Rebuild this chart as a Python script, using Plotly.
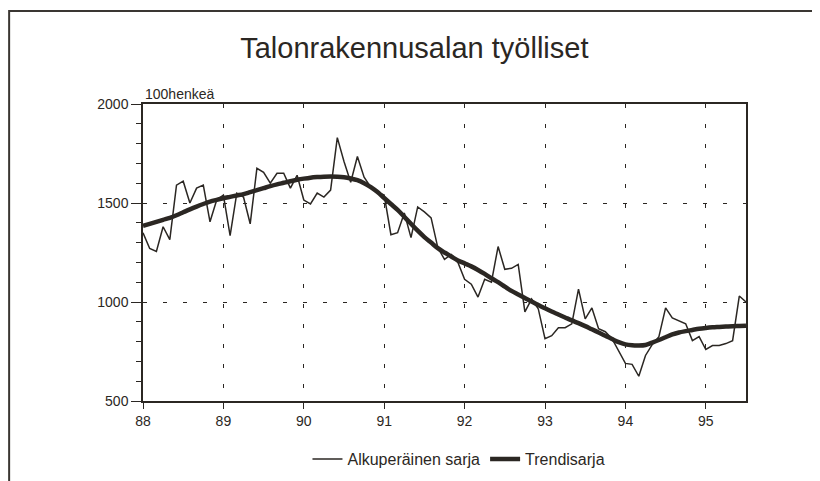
import plotly.graph_objects as go

title = "Talonrakennusalan työlliset"
y_unit = "100henkeä"
start_year = 88
series_names = ["Alkuperäinen sarja", "Trendisarja"]

original = [1350, 1270, 1255, 1380, 1315, 1590, 1610, 1500, 1575, 1590, 1405, 1515,
            1540, 1335, 1550, 1530, 1395, 1675, 1655, 1600, 1650, 1650, 1575, 1640,
            1515, 1495, 1550, 1530, 1565, 1830, 1710, 1605, 1735, 1630, 1580, 1555,
            1540, 1340, 1350, 1450, 1325, 1480, 1455, 1425, 1275, 1215, 1240, 1200,
            1115, 1090, 1025, 1115, 1100, 1280, 1165, 1170, 1190, 950, 1015, 965,
            815, 830, 870, 870, 890, 1065, 915, 970, 865, 850, 815, 750,
            690, 685, 625, 730, 785, 825, 970, 920, 905, 890, 805, 825,
            760, 780, 780, 790, 805, 1030, 1000]

trend = [1385, 1395, 1405, 1415, 1425, 1438, 1453, 1468, 1482, 1495, 1507, 1516,
         1524, 1531, 1538, 1545, 1555, 1565, 1575, 1585, 1594, 1602, 1610, 1617,
         1623, 1628, 1631, 1633, 1634, 1633, 1630, 1624, 1615, 1600, 1580, 1555,
         1525, 1495, 1465, 1430, 1395, 1360, 1328, 1300, 1272, 1250, 1230, 1210,
         1195, 1180, 1162, 1142, 1120, 1100, 1078, 1056, 1038, 1020, 1002, 985,
         968, 952, 937, 922, 907, 893, 878, 862, 846, 830, 813, 797,
         786, 781, 780, 783, 795, 808, 822, 836, 846, 853, 859, 865,
         869, 872, 874, 876, 878, 879, 880]

x_ticks = [88, 89, 90, 91, 92, 93, 94, 95]
y_ticks = [500, 1000, 1500, 2000]

x = [start_year + i / 12 for i in range(len(original))]

INK = "#2b2723"
FONT = "Liberation Sans, Arial, sans-serif"

fig = go.Figure()
fig.add_trace(go.Scatter(x=x, y=original, mode="lines", name=series_names[0],
                         line=dict(color=INK, width=1.5)))
fig.add_trace(go.Scatter(x=x, y=trend, mode="lines", name=series_names[1],
                         line=dict(color=INK, width=4.5, shape="spline")))

W, H = 812, 473
fig.update_layout(
    width=W, height=H,
    margin=dict(l=135, r=74, t=96, b=80),
    paper_bgcolor="white", plot_bgcolor="white",
    font=dict(family=FONT, size=14, color=INK),
    title=dict(text=title, x=0.45, xref="paper", xanchor="center",
               y=1 - 40 / H, yref="container", yanchor="middle",
               font=dict(family=FONT, size=29, color=INK)),
    showlegend=True,
    legend=dict(orientation="h", x=0.524, xanchor="center",
                y=(H - 451) / H, yref="container", yanchor="middle",
                font=dict(family=FONT, size=16, color=INK),
                itemwidth=30, tracegroupgap=0, bgcolor="rgba(0,0,0,0)"),
    annotations=[dict(text=y_unit, xref="paper", yref="paper", x=0.0, y=1.0,
                      xanchor="left", yanchor="bottom", showarrow=False,
                      font=dict(family=FONT, size=14, color=INK))],
    shapes=[dict(type="rect", xref="paper", yref="paper",
                 x0=-0.222, x1=1.3, y0=-0.4, y1=1.313,
                 line=dict(color="#3a3632", width=2), fillcolor="rgba(0,0,0,0)",
                 layer="below")],
)

fig.update_xaxes(range=[88, 95.5], tickmode="array", tickvals=x_ticks,
                 ticktext=[str(v) for v in x_ticks],
                 showline=True, linecolor=INK, linewidth=1.5, mirror=True,
                 ticks="outside", ticklen=6, tickwidth=1.2, tickcolor=INK,
                 showgrid=True, gridcolor=INK, gridwidth=1, griddash="4px,16px",
                 zeroline=False, tickfont=dict(family=FONT, size=14, color=INK))
fig.update_yaxes(range=[500, 2000], tickmode="array", tickvals=y_ticks,
                 showline=True, linecolor=INK, linewidth=1.5, mirror=True,
                 ticks="outside", ticklen=10, tickwidth=1.2, tickcolor=INK,
                 minor=dict(dtick=100, ticks="outside", ticklen=5, tickcolor=INK,
                            tickwidth=1, showgrid=False),
                 showgrid=True, gridcolor=INK, gridwidth=1, griddash="4px,16px",
                 zeroline=False, tickfont=dict(family=FONT, size=14, color=INK))

fig.write_html("out.html")
